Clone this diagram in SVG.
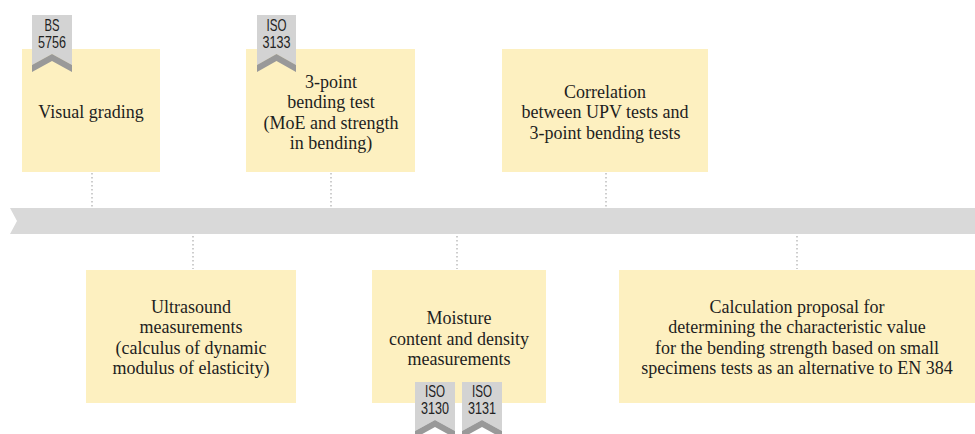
<svg xmlns="http://www.w3.org/2000/svg" width="975" height="434" viewBox="0 0 975 434">
<style>
.box{fill:#fdf0c0}
.t{font-family:"Liberation Serif",serif;font-size:18px;fill:#1e1e1e;text-anchor:middle}
.conn{stroke:#bdbdbd;stroke-width:1.5;stroke-dasharray:1.5 2.5;fill:none}
.bl{fill:#d3d3d3}
.bd{fill:#999}
.bt{font-family:"Liberation Sans",sans-serif;font-size:16.5px;fill:#222;text-anchor:middle}
</style>
<rect width="975" height="434" fill="#fff"/>
<polygon points="10,208 975,208 975,234 10,234 17,221" fill="#d9d9d9"/>
<g id="connectors">
<line class="conn" x1="92" y1="173" x2="92" y2="207"/>
<line class="conn" x1="331" y1="173" x2="331" y2="207"/>
<line class="conn" x1="606" y1="173" x2="606" y2="207"/>
<line class="conn" x1="193" y1="236" x2="193" y2="269"/>
<line class="conn" x1="457" y1="236" x2="457" y2="269"/>
<line class="conn" x1="797" y1="236" x2="797" y2="269"/>
</g>
<g id="visual">
<rect class="box" x="22" y="49" width="138" height="123"/>
<text class="t" x="91" y="118">Visual grading</text>
</g>
<g id="bending">
<rect class="box" x="246" y="49" width="169" height="123"/>
<text class="t" x="331" y="88">3-point</text>
<text class="t" x="331" y="108">bending test</text>
<text class="t" x="331" y="129">(MoE and strength</text>
<text class="t" x="331" y="149">in bending)</text>
</g>
<g id="correlation">
<rect class="box" x="502" y="49" width="206" height="123"/>
<text class="t" x="605" y="98">Correlation</text>
<text class="t" x="605" y="118">between UPV tests and</text>
<text class="t" x="605" y="139">3-point bending tests</text>
</g>
<g id="ultrasound">
<rect class="box" x="86" y="270" width="210" height="133"/>
<text class="t" x="191" y="313">Ultrasound</text>
<text class="t" x="191" y="333">measurements</text>
<text class="t" x="191" y="354">(calculus of dynamic</text>
<text class="t" x="191" y="374">modulus of elasticity)</text>
</g>
<g id="moisture">
<rect class="box" x="372" y="270" width="174" height="133"/>
<text class="t" x="459" y="324">Moisture</text>
<text class="t" x="459" y="345">content and density</text>
<text class="t" x="459" y="365">measurements</text>
</g>
<g id="calculation">
<rect class="box" x="619" y="270" width="356" height="133"/>
<text class="t" x="797" y="313">Calculation proposal for</text>
<text class="t" x="797" y="333">determining the characteristic value</text>
<text class="t" x="797" y="354">for the bending strength based on small</text>
<text class="t" x="797" y="374">specimens tests as an alternative to EN 384</text>
</g>
<g id="badge-bs5756">
<polygon class="bl" points="32,15 72,15 72,65 52,54 32,65"/>
<polygon class="bd" points="32,65 52,54 72,65 72,72 52,61 32,72"/>
<text class="bt" x="52" y="31" textLength="15" lengthAdjust="spacingAndGlyphs">BS</text>
<text class="bt" x="52" y="48" textLength="28" lengthAdjust="spacingAndGlyphs">5756</text>
</g>
<g id="badge-iso3133">
<polygon class="bl" points="257,15 296,15 296,65 276.5,54 257,65"/>
<polygon class="bd" points="257,65 276.5,54 296,65 296,72 276.5,61 257,72"/>
<text class="bt" x="276.5" y="31" textLength="20" lengthAdjust="spacingAndGlyphs">ISO</text>
<text class="bt" x="276.5" y="48" textLength="28" lengthAdjust="spacingAndGlyphs">3133</text>
</g>
<g id="badge-iso3130">
<polygon class="bl" points="415,382 455,382 455,431 435,420 415,431"/>
<polygon class="bd" points="415,431 435,420 455,431 455,438 435,427 415,438"/>
<text class="bt" x="435" y="397" textLength="20" lengthAdjust="spacingAndGlyphs">ISO</text>
<text class="bt" x="435" y="414" textLength="28" lengthAdjust="spacingAndGlyphs">3130</text>
</g>
<g id="badge-iso3131">
<polygon class="bl" points="462,382 502,382 502,431 482,420 462,431"/>
<polygon class="bd" points="462,431 482,420 502,431 502,438 482,427 462,438"/>
<text class="bt" x="482" y="397" textLength="20" lengthAdjust="spacingAndGlyphs">ISO</text>
<text class="bt" x="482" y="414" textLength="28" lengthAdjust="spacingAndGlyphs">3131</text>
</g>
</svg>
